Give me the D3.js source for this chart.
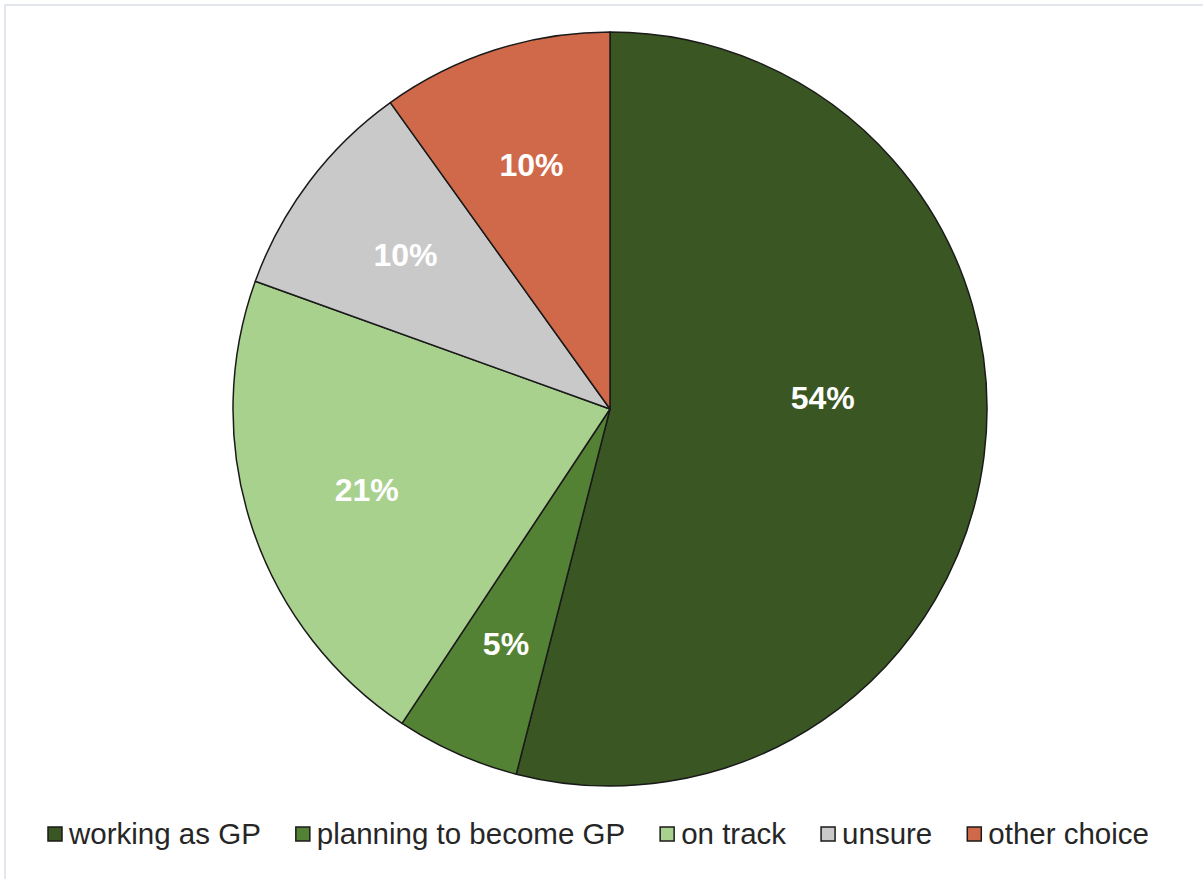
<!DOCTYPE html>
<html>
<head>
<meta charset="utf-8">
<script src="https://cdn.jsdelivr.net/npm/d3@7"></script>
<style>
  body { margin: 0; background: #fff; }
  text { font-family: "Liberation Sans", Arial, sans-serif; }
</style>
</head>
<body>
<div id="chart"></div>
<script>
// categories and shares (%)
var categories = ["working as GP", "planning to become GP", "on track", "unsure", "other choice"];
var shares = [54.0, 5.3, 21.2, 9.6, 9.9];
var colors = ["#3a5623", "#548235", "#a9d18e", "#c9c9c9", "#d0694a"];

var width = 1203, height = 879;
var cx = 610, cy = 409, radius = 377;

var svg = d3.select("#chart")
    .append("svg")
    .attr("width", width)
    .attr("height", height);

// faint chart frame
svg.append("rect")
    .attr("x", 5).attr("y", 5)
    .attr("width", width + 20).attr("height", height + 20)
    .attr("fill", "none")
    .attr("stroke", "#e3e7ed")
    .attr("stroke-width", 2);

var data = categories.map(function(c, i) { return {name: c, value: shares[i], color: colors[i]}; });

var pie = d3.pie()
    .sort(null)
    .value(function(d) { return d.value; });

var arc = d3.arc().innerRadius(0).outerRadius(radius);
var labelArc = d3.arc().innerRadius(radius * 0.68).outerRadius(radius * 0.68);

var g = svg.append("g")
    .attr("transform", "translate(" + cx + "," + cy + ")");

var slices = pie(data);

g.selectAll("path")
    .data(slices)
    .enter()
    .append("path")
    .attr("d", arc)
    .attr("fill", function(d) { return d.data.color; })
    .attr("stroke", "#1a1a1a")
    .attr("stroke-width", 1.5)
    .attr("stroke-linejoin", "round");

// label position: big slice gets pulled in and up a bit (like excel best fit)
function labelPos(d) {
    if (d.data.value > 50) {
        var a = (d.startAngle + d.endAngle) / 2 - 0.18;
        var r = radius * 0.565;
        return [r * Math.sin(a), -r * Math.cos(a)];
    }
    return labelArc.centroid(d);
}

g.selectAll("text.lbl")
    .data(slices)
    .enter()
    .append("text")
    .attr("class", "lbl")
    .attr("transform", function(d) {
        var c = labelPos(d);
        return "translate(" + c[0] + "," + c[1] + ")";
    })
    .attr("text-anchor", "middle")
    .attr("dy", "0.35em")
    .style("font-size", "32px")
    .style("font-weight", "bold")
    .style("fill", "#ffffff")
    .text(function(d) { return Math.round(d.data.value) + "%"; });

// legend
var legend = svg.append("g").attr("transform", "translate(48,834)");
var xPos = 0;
data.forEach(function(d, i) {
    var item = legend.append("g").attr("transform", "translate(" + xPos + ",0)");
    item.append("rect")
        .attr("x", 0).attr("y", -7)
        .attr("width", 14).attr("height", 14)
        .attr("fill", d.color)
        .attr("stroke", "#1a1a1a")
        .attr("stroke-width", 1.5);
    var t = item.append("text")
        .attr("x", 21)
        .attr("dy", "0.35em")
        .style("font-size", "29.5px")
        .style("fill", "#262626")
        .text(d.name);
    xPos += 21 + t.node().getComputedTextLength() + 35;
});
</script>
</body>
</html>
